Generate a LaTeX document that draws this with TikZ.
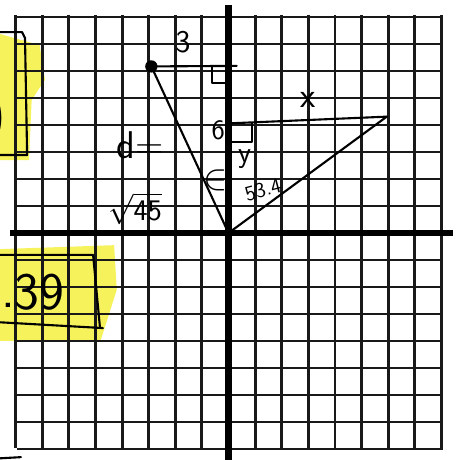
\documentclass[tikz,border=0pt]{standalone}
\usepackage{amsmath,amssymb}
\usepackage{xcolor}
\usepackage{tikz}
\usetikzlibrary{positioning}
\definecolor{hilite}{RGB}{246,242,92}

\begin{document}
\begin{tikzpicture}[
  x=0.532cm, y=0.54cm,
  gridline/.style={line width=1.6pt,black!90},
  axisline/.style={line width=3.6pt,black},
  pen/.style={line width=1.2pt,black,line cap=round,line join=round},
  marker/.style={fill=hilite,draw=none},
  hand/.style={font=\sffamily,inner sep=0pt}
]
  \useasboundingbox[fill=white] (-8.59,-8.37) rectangle (8.74,8.63);
  % highlighter
  \fill[marker] (-8.7,7.4) -- (-7.1,6.96) -- (-6.9,5.67) -- (-7.4,4.93) -- (-7.5,2.7) -- (-8.7,2.7) -- cycle;
  \fill[marker] (-8.7,-0.6) -- (-4.3,-0.45) -- (-4.2,-2.1) -- (-4.8,-3.96) -- (-8.7,-4.0) -- cycle;
  % grid
  \foreach \k in {-8,...,8} {
    \draw[gridline] (\k,-7.96) -- (\k,8.07);
    \draw[gridline] (-7.95,\k) -- (8.06,\k);
  }
  \draw[axisline] (-8.2,0) -- (8.44,0);
  \draw[axisline] (0,8.44) -- (0,-8.45);

  \coordinate (O) at (0,0);
  \coordinate (P) at (-2.9,6.17);
  \coordinate (Pend) at (0.31,6.19);
  \coordinate (Q) at (5.95,4.31);
  \coordinate (Qfoot) at (0,4.06);

  % first point
  \fill (P) circle (3.5pt);
  \draw[pen] (P) -- (Pend);
  \draw[pen] (P) -- (O);
  \draw[pen] (-0.62,6.19) -- (-0.62,5.56) -- (0,5.56);
  % second point
  \draw[pen] (Qfoot) -- (Q);
  \draw[pen] (O) -- (Q);
  \draw[pen] (0.88,4.06) -- (0.88,3.37) -- (0,3.37);

  % labels
  \node[hand,font=\sffamily\fontsize{18}{18}\selectfont] (three) at (-1.71,7.07) {3};
  \node[hand,font=\sffamily\fontsize{20}{20}\selectfont] (xlbl) at (2.99,4.93) {x};
  \node[hand,font=\sffamily\fontsize{16}{16}\selectfont] (six) at (-0.39,3.81) {6};
  \node[hand,font=\sffamily\fontsize{17}{17}\selectfont] (ylbl) at (0.6,2.75) {y};
  \node[hand,font=\sffamily\fontsize{12}{12}\selectfont,rotate=15] (ang) at (1.3,1.6) {53.4};
  \node[hand,font=\fontsize{20}{20}\selectfont] (arc) at (-0.47,1.96) {$\in$};
  \node[hand,font=\sffamily\fontsize{22}{22}\selectfont] (dist) at (-3.33,3.25) {d=};
  \node[hand,font=\sffamily\fontsize{17}{17}\selectfont] (root) at (-3.51,0.9) {$\sqrt{\textsf{45}}$};

  % boxed answers on the left
  \draw[pen] (-8.7,7.44) -- (-7.76,7.44) -- (-7.65,7.22) -- (-7.57,2.89) -- (-8.7,2.89);
  \node[hand,font=\sffamily\fontsize{30}{30}\selectfont] (cut) at (-8.72,4.26) {)};
  \draw[pen] (-8.7,-0.81) -- (-5.09,-0.81) -- (-4.83,-3.52);
  \draw[pen] (-8.7,-3.30) -- (-4.72,-3.52);
  \node[hand,font=\sffamily\fontsize{30}{30}\selectfont] (ans) at (-7.1,-2.19) {39};
  \node[hand,font=\sffamily\fontsize{30}{30}\selectfont,anchor=base west] (pt) at (-8.56,-2.75) {.};
  \draw[pen] (-8.7,-8.35) -- (-7.8,-8.3);
\end{tikzpicture}
\end{document}
